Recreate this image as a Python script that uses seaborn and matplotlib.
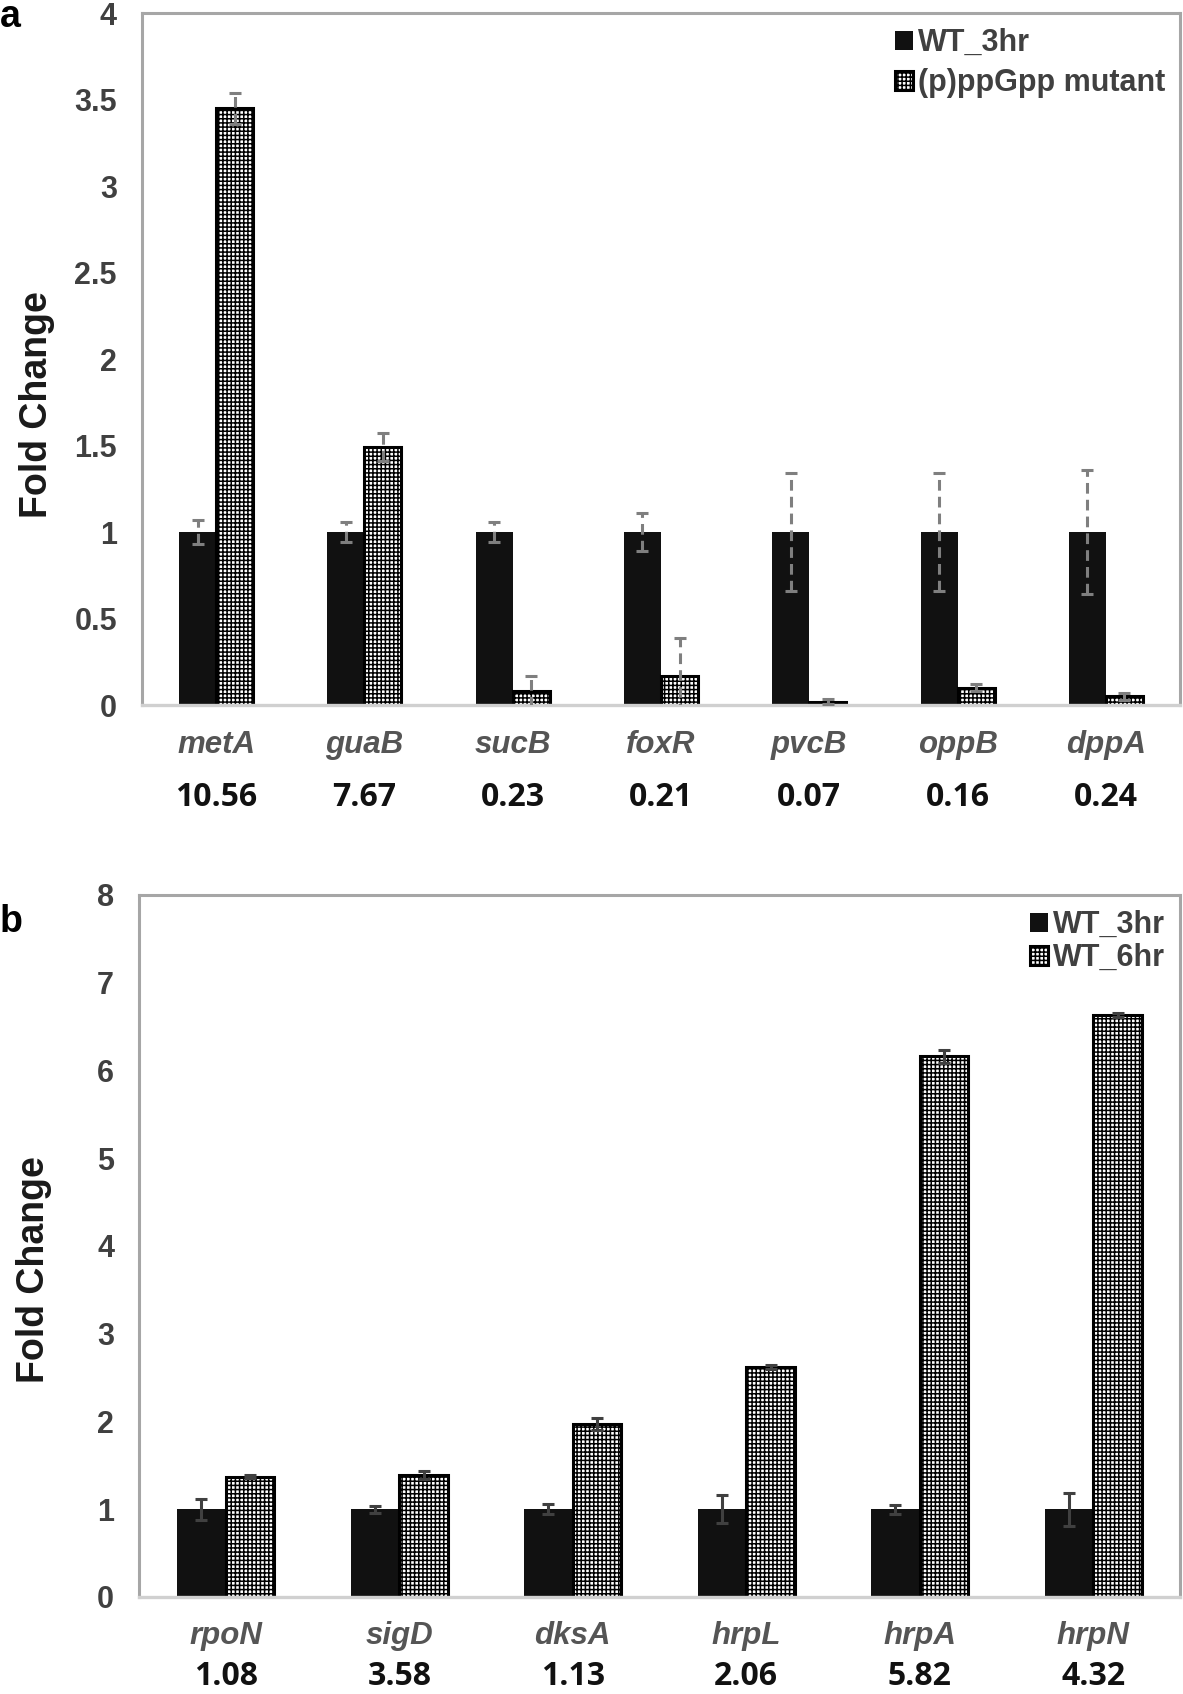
import numpy as np
import pandas as pd
import matplotlib
matplotlib.use('Agg')
import matplotlib.pyplot as plt
import seaborn as sns
from matplotlib.ticker import MultipleLocator, FormatStrFormatter
import matplotlib.transforms as mtransforms

# ---------------------------------- panel a ----------------------------------
genes_a = ['metA', 'guaB', 'sucB', 'foxR', 'pvcB', 'oppB', 'dppA']
wt3_a = [1.0, 1.0, 1.0, 1.0, 1.0, 1.0, 1.0]
wt3_err_a = [0.07, 0.06, 0.06, 0.11, 0.34, 0.34, 0.36]
mut_a = [3.45, 1.49, 0.08, 0.17, 0.02, 0.10, 0.05]
mut_err_a = [0.09, 0.08, 0.09, 0.22, 0.015, 0.02, 0.02]
ratio_a = [10.56, 7.67, 0.23, 0.21, 0.07, 0.16, 0.24]
labels_a = ['WT_3hr', '(p)ppGpp mutant']

# ---------------------------------- panel b ----------------------------------
genes_b = ['rpoN', 'sigD', 'dksA', 'hrpL', 'hrpA', 'hrpN']
wt3_b = [1.0, 1.0, 1.0, 1.0, 1.0, 1.0]
wt3_err_b = [0.12, 0.04, 0.06, 0.16, 0.05, 0.19]
wt6_b = [1.37, 1.39, 1.97, 2.62, 6.16, 6.63]
wt6_err_b = [0.02, 0.05, 0.07, 0.02, 0.07, 0.02]
ratio_b = [1.08, 3.58, 1.13, 2.06, 5.82, 4.32]
labels_b = ['WT_3hr', 'WT_6hr']

sns.set_theme(style='white')
plt.rcParams['font.family'] = ['Liberation Sans', 'DejaVu Sans']
plt.rcParams['hatch.linewidth'] = 1.1
plt.rcParams['hatch.color'] = 'black'

TXT = '#404040'


def draw_panel(ax, genes, v1, e1, v2, e2, ratios, labels, ymax, ystep, width,
               errcolor, dashed, gene_pad, num_y, ylab_y, leg_space):
    n = len(genes)
    df = pd.DataFrame({'gene': genes * 2,
                       'fc': v1 + v2,
                       'grp': [labels[0]] * n + [labels[1]] * n})
    sns.barplot(data=df, x='gene', y='fc', hue='grp', palette=['#111111', 'white'],
                width=width, saturation=1, errorbar=None, legend=False, ax=ax)

    wt_bars, mut_bars = ax.containers[0], ax.containers[1]
    for p in wt_bars:
        p.set_edgecolor('#111111')
        p.set_linewidth(0)
    for p in mut_bars:
        p.set_facecolor('white')
        p.set_edgecolor('black')
        p.set_hatch('++++')
        p.set_linewidth(2.2)

    # barres d'erreur
    for cont, vals, errs in [(wt_bars, v1, e1), (mut_bars, v2, e2)]:
        xs = [p.get_x() + p.get_width() / 2 for p in cont]
        eb = ax.errorbar(xs, vals, yerr=errs, fmt='none', ecolor=errcolor,
                         elinewidth=2.2, capsize=4.5, capthick=2.2, zorder=5)
        if dashed:
            eb.lines[2][0].set_linestyle((0, (3.5, 2)))

    ax.set_xlim(-0.5, n - 0.5)
    ax.set_ylim(0, ymax)
    ax.yaxis.set_major_locator(MultipleLocator(ystep))
    ax.yaxis.set_major_formatter(FormatStrFormatter('%g'))
    ax.set_xlabel('')
    ax.set_ylabel('Fold Change', fontsize=27, fontweight='bold', color='#1a1a1a')
    ax.yaxis.set_label_coords(-0.084, ylab_y)

    ax.tick_params(axis='y', length=0, pad=18, labelsize=22, labelcolor=TXT)
    ax.tick_params(axis='x', length=0, pad=gene_pad, labelsize=22.5, labelcolor='#555555')
    for t in ax.get_yticklabels():
        t.set_fontweight('bold')
    for t in ax.get_xticklabels():
        t.set_fontweight('bold')
        t.set_fontstyle('italic')

    for side in ['left', 'top', 'right']:
        ax.spines[side].set_color('#a6a6a6')
        ax.spines[side].set_linewidth(2.2)
    ax.spines['bottom'].set_color('#d0d0d0')
    ax.spines['bottom'].set_linewidth(2.4)

    trans = mtransforms.blended_transform_factory(ax.transData, ax.transAxes)
    for i, r in enumerate(ratios):
        ax.text(i, num_y, f'{r:.2f}', transform=trans, ha='center', va='center',
                fontsize=23, fontweight='bold', color='#111111',
                family=['Open Sans', 'DejaVu Sans'])

    ax.legend(handles=[wt_bars, mut_bars], labels=labels, loc='upper right',
              frameon=False, prop={'size': 22, 'weight': 'bold'}, labelcolor=TXT,
              handlelength=0.6, handleheight=0.6, handletextpad=0.15,
              labelspacing=leg_space, borderpad=0.1, borderaxespad=0.4)


fig = plt.figure(figsize=(11.83, 16.94), dpi=100)
ax_a = fig.add_axes([0.120, 0.5838, 0.8775, 0.4085])
ax_b = fig.add_axes([0.1175, 0.0573, 0.8800, 0.4144])

draw_panel(ax_a, genes_a, wt3_a, wt3_err_a, mut_a, mut_err_a, ratio_a, labels_a,
           4, 0.5, 0.5, '#7f7f7f', True, 18, -0.134, 0.434, 0.32)
draw_panel(ax_b, genes_b, wt3_b, wt3_err_b, wt6_b, wt6_err_b, ratio_b, labels_b,
           8, 1, 0.56, '#404040', False, 17, -0.113, 0.466, 0.1)

fig.text(0.0, 1 - 17 / 1694, 'a', fontsize=27, fontweight='bold', color='black',
         ha='left', va='center')
fig.text(0.0, 1 - 922 / 1694, 'b', fontsize=27, fontweight='bold', color='black',
         ha='left', va='center')

fig.savefig('out.png', dpi=100)
